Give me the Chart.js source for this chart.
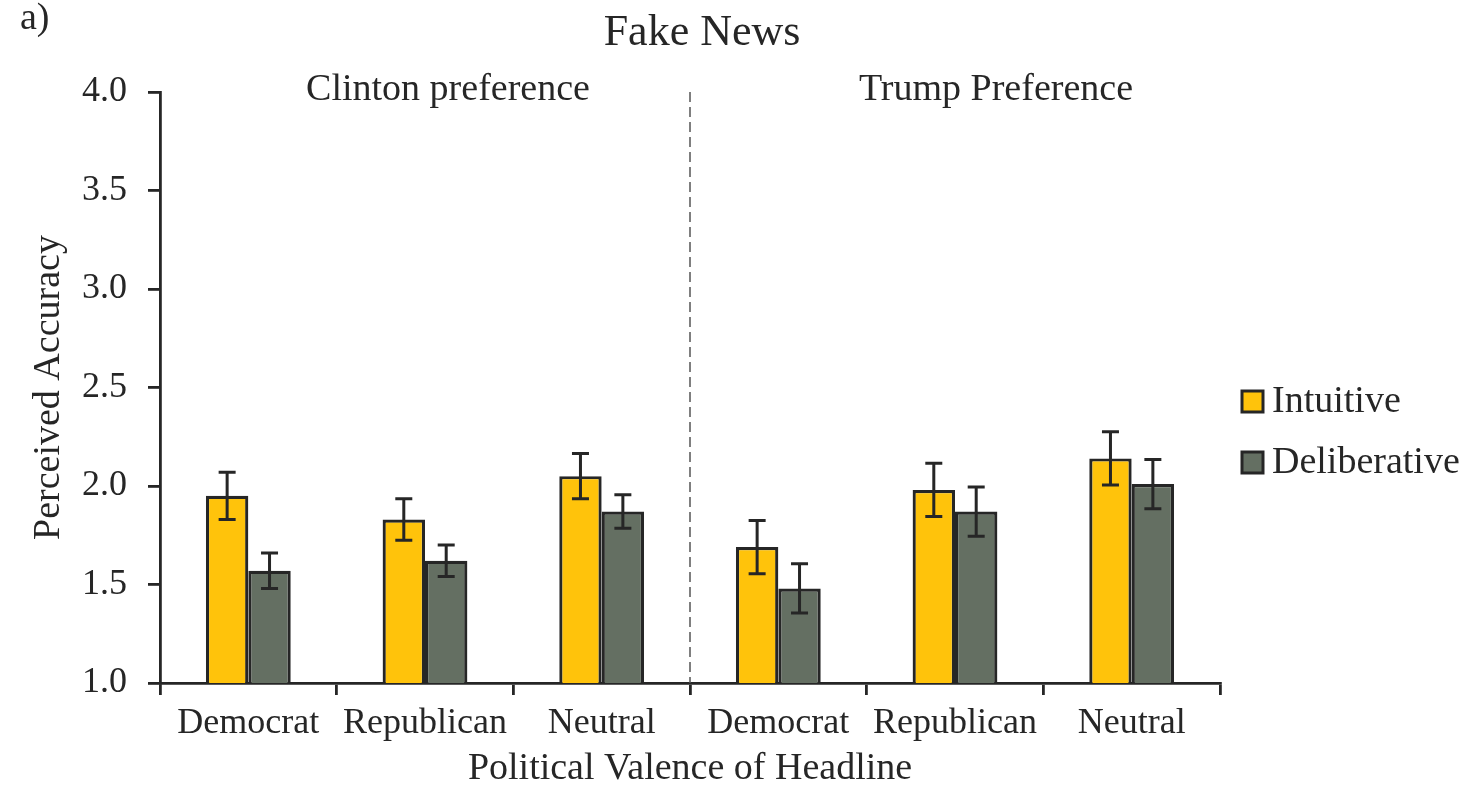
<!DOCTYPE html>
<html>
<head>
<meta charset="utf-8">
<script src="https://cdn.jsdelivr.net/npm/chart.js@4.4.1/dist/chart.umd.min.js"></script>
<style>
  body { margin: 0; background: #fff; }
  #wrap { width: 1478px; height: 788px; position: relative; }
</style>
</head>
<body>
<div id="wrap"><canvas id="myChart"></canvas></div>
<script>
// values
const categories = ['Democrat', 'Republican', 'Neutral', 'Democrat', 'Republican', 'Neutral'];
const groups = ['Clinton preference', 'Trump Preference'];
const intuitive = [1.95, 1.83, 2.05, 1.69, 1.98, 2.14];
const deliberative = [1.57, 1.62, 1.87, 1.48, 1.87, 2.01];
const intuitiveErr = [0.12, 0.105, 0.115, 0.135, 0.135, 0.135];
const deliberativeErr = [0.09, 0.08, 0.085, 0.125, 0.125, 0.125];
const yTicks = [1.0, 1.5, 2.0, 2.5, 3.0, 3.5, 4.0];

const serif = '"Liberation Serif", "Times New Roman", serif';
const ink = '#262626';
const colIntuitive = '#FFC30B';
const colDeliberative = '#646F62';

// error bars, group labels, divider, legend, title
const extras = {
    id: 'extras',
    afterDatasetsDraw(chart) {
        const ctx = chart.ctx;
        const y = chart.scales.y;
        const x = chart.scales.x;
        const errs = [intuitiveErr, deliberativeErr];
        ctx.save();
        ctx.strokeStyle = ink;
        ctx.lineWidth = 3;
        chart.data.datasets.forEach((ds, i) => {
            chart.getDatasetMeta(i).data.forEach((bar, j) => {
                const top = y.getPixelForValue(ds.data[j] + errs[i][j]);
                const bot = y.getPixelForValue(ds.data[j] - errs[i][j]);
                ctx.beginPath();
                ctx.moveTo(bar.x, top); ctx.lineTo(bar.x, bot);
                ctx.moveTo(bar.x - 8.5, top); ctx.lineTo(bar.x + 8.5, top);
                ctx.moveTo(bar.x - 8.5, bot); ctx.lineTo(bar.x + 8.5, bot);
                ctx.stroke();
            });
        });

        // dashed divider between the two preference groups
        const mid = (x.getPixelForValue(2) + x.getPixelForValue(3)) / 2;
        ctx.strokeStyle = '#555';
        ctx.lineWidth = 1.5;
        ctx.setLineDash([10, 5]);
        ctx.beginPath();
        ctx.moveTo(mid, chart.chartArea.top);
        ctx.lineTo(mid, chart.chartArea.bottom);
        ctx.stroke();
        ctx.setLineDash([]);

        ctx.fillStyle = ink;
        ctx.textAlign = 'center';
        ctx.textBaseline = 'alphabetic';
        ctx.font = '38px ' + serif;
        ctx.fillText(groups[0], x.getPixelForValue(1) + 23, 100);
        ctx.fillText(groups[1], x.getPixelForValue(4) + 41, 100);

        ctx.font = '44px ' + serif;
        ctx.fillText('Fake News', 702, 45);
        ctx.textAlign = 'left';
        ctx.font = '38px ' + serif;
        ctx.fillText('a)', 20, 29);

        // legend
        const items = [[chart.data.datasets[0].label, colIntuitive, 391],
                       [chart.data.datasets[1].label, colDeliberative, 452]];
        ctx.font = '38px ' + serif;
        ctx.textBaseline = 'middle';
        items.forEach(([label, col, top]) => {
            ctx.fillStyle = col;
            ctx.fillRect(1242, top, 21, 21);
            ctx.strokeStyle = ink;
            ctx.lineWidth = 3;
            ctx.strokeRect(1242, top, 21, 21);
            ctx.fillStyle = ink;
            ctx.fillText(label, 1272, top + 11);
        });
        ctx.restore();
    }
};

const canva = document.getElementById('myChart').getContext('2d');
const myChart = new Chart(canva, {
    type: 'bar',
    data: {
        labels: categories,
        datasets: [{
            label: 'Intuitive',
            data: intuitive,
            backgroundColor: colIntuitive,
            borderColor: ink,
            borderWidth: 3.2,
            borderSkipped: false
        }, {
            label: 'Deliberative',
            data: deliberative,
            backgroundColor: colDeliberative,
            borderColor: ink,
            borderWidth: 3.2,
            borderSkipped: false
        }]
    },
    options: {
        responsive: true,
        maintainAspectRatio: false,
        animation: false,
        layout: { padding: { top: 92, right: 258, left: 0, bottom: 0 } },
        datasets: { bar: { categoryPercentage: 0.48, barPercentage: 1.0 } },
        plugins: { legend: { display: false }, tooltip: { enabled: false } },
        scales: {
            x: {
                afterFit: s => { s.height = 105; },
                grid: { drawOnChartArea: false, tickLength: 12, color: ink, lineWidth: 2.8 },
                border: { color: ink, width: 2.8 },
                ticks: { color: ink, padding: 11, maxRotation: 0, autoSkip: false,
                         font: { family: serif, size: 36, lineHeight: 1 } },
                title: { display: true, text: 'Political Valence of Headline', color: ink,
                         padding: { top: 0, bottom: 0 },
                         font: { family: serif, size: 38, lineHeight: 1 } }
            },
            y: {
                min: 1, max: 4,
                afterFit: s => { s.width = 160; },
                afterBuildTicks: s => { s.ticks = yTicks.map(v => ({ value: v })); },
                grid: { drawOnChartArea: false, tickLength: 12, color: ink, lineWidth: 2.8 },
                border: { color: ink, width: 2.8 },
                ticks: { color: ink, padding: 21, callback: v => v.toFixed(1),
                         font: { family: serif, size: 36, lineHeight: 1 } },
                title: { display: true, text: 'Perceived Accuracy', color: ink,
                         padding: { top: 30, bottom: 0 },
                         font: { family: serif, size: 38, lineHeight: 1 } }
            }
        }
    },
    plugins: [extras]
});
</script>
</body>
</html>
